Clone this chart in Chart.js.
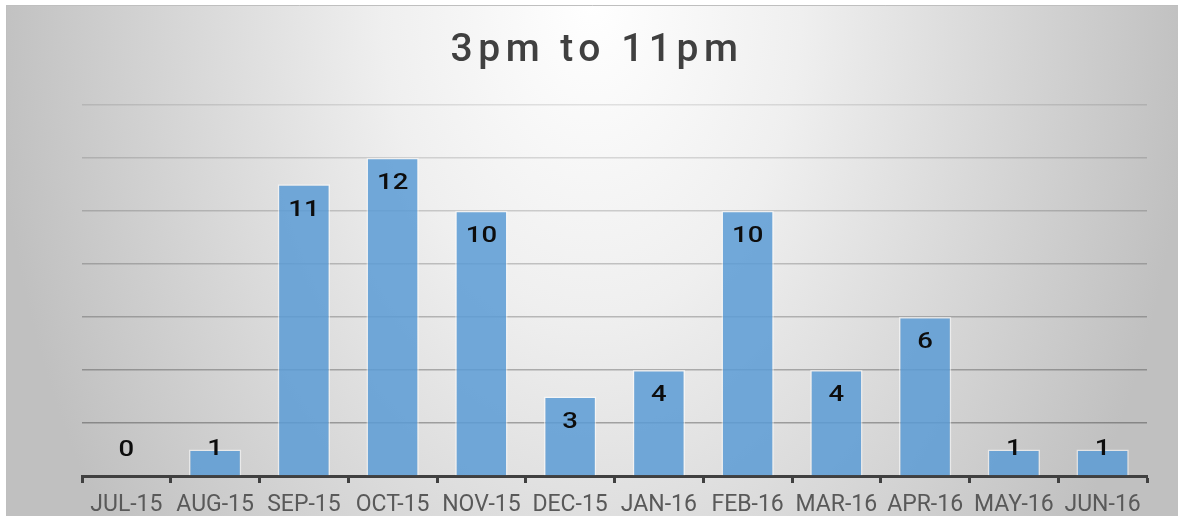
<!DOCTYPE html>
<html>
<head>
<meta charset="utf-8">
<script src="https://cdn.jsdelivr.net/npm/chart.js@4.4.1/dist/chart.umd.min.js"></script>
<style>
  html, body { margin: 0; padding: 0; background: #ffffff; }
  #wrap { width: 1178px; height: 516px; position: relative; }
</style>
</head>
<body>
<div id="wrap"><canvas id="c" width="1178" height="516"></canvas></div>
<script>
// ---- data ----
const categories = ['JUL-15', 'AUG-15', 'SEP-15', 'OCT-15', 'NOV-15', 'DEC-15',
                    'JAN-16', 'FEB-16', 'MAR-16', 'APR-16', 'MAY-16', 'JUN-16'];
const counts = [0, 1, 11, 12, 10, 3, 4, 10, 4, 6, 1, 1];
const chartTitle = '3pm to 11pm';
const yMin = 0;
const yMax = 14;
const yStep = 2;

// ---- plugins ----
const backgroundPlugin = {
  id: 'bgPanel',
  beforeDraw(chart) {
    const ctx = chart.ctx;
    const W = chart.width, H = chart.height;
    ctx.save();
    ctx.fillStyle = '#ffffff';
    ctx.fillRect(0, 0, W, H);
    const x0 = 6, y0 = 5, x1 = W, y1 = H;
    const cx = 592, cy = 0, rx = 600, ry = 900;
    ctx.beginPath();
    ctx.rect(x0, y0, x1 - x0, y1 - y0);
    ctx.clip();
    ctx.translate(cx, cy);
    ctx.scale(rx / ry, 1);
    const g = ctx.createRadialGradient(0, 0, 0, 0, 0, ry);
    g.addColorStop(0, '#ffffff');
    g.addColorStop(0.35, '#efefef');
    g.addColorStop(1, '#c0c0c0');
    ctx.fillStyle = g;
    ctx.fillRect(-2000, -100, 4000, 2000);
    ctx.restore();
    ctx.save();
    ctx.strokeStyle = '#bfbfbf';
    ctx.lineWidth = 1;
    ctx.beginPath();
    ctx.moveTo(x0 + 0.5, y1);
    ctx.lineTo(x0 + 0.5, y0 + 0.5);
    ctx.lineTo(x1, y0 + 0.5);
    ctx.stroke();
    ctx.restore();
    // spacing used by the title (drawn before the datasets)
    ctx.letterSpacing = '5.5px';
  }
};

const valueLabelPlugin = {
  id: 'valueLabels',
  afterDatasetsDraw(chart) {
    const ctx = chart.ctx;
    ctx.letterSpacing = '0px';
    const meta = chart.getDatasetMeta(0);
    ctx.save();
    ctx.font = '500 22px Roboto';
    ctx.fillStyle = '#0d0d0d';
    ctx.textAlign = 'center';
    ctx.textBaseline = 'middle';
    meta.data.forEach((el, i) => {
      const p = el.getProps(['x', 'y', 'base'], true);
      const yy = Math.min(p.y + 26, p.base - 25.5);
      ctx.save();
      ctx.translate(p.x, yy);
      ctx.scale(1.25, 1);
      ctx.fillText(String(counts[i]), 0, 0);
      ctx.restore();
    });
    ctx.restore();
  }
};

new Chart(document.getElementById('c'), {
  type: 'bar',
  data: {
    labels: categories,
    datasets: [{
      data: counts,
      backgroundColor: 'rgba(91,155,213,0.85)',
      borderColor: 'rgba(255,255,255,0.55)',
      borderWidth: 1.5,
      barPercentage: 0.59,
      categoryPercentage: 1.0
    }]
  },
  options: {
    responsive: false,
    animation: false,
    events: [],
    layout: { padding: { top: 28, left: 20, right: 4, bottom: 0 } },
    plugins: {
      legend: { display: false },
      tooltip: { enabled: false },
      title: {
        display: true,
        text: chartTitle,
        color: '#404040',
        font: { family: 'Roboto', size: 39, weight: '500', lineHeight: 1.2 },
        padding: { top: 0, bottom: 30 }
      }
    },
    scales: {
      x: {
        offset: true,
        grid: {
          offset: true,
          drawOnChartArea: false,
          drawTicks: true,
          tickLength: 7,
          tickWidth: 3,
          tickColor: '#404040'
        },
        border: { display: true, color: '#404040', width: 3 },
        ticks: {
          z: 1,
          color: '#595959',
          padding: 8,
          maxRotation: 0,
          autoSkip: false,
          font: { family: 'Roboto', size: 23 }
        },
        afterFit(scale) { scale.height = 40; }
      },
      y: {
        min: yMin,
        max: yMax,
        ticks: { display: false, stepSize: yStep },
        border: { display: false },
        grid: {
          drawTicks: false,
          lineWidth: 1.5,
          color(ctx) {
            const v = ctx.tick ? ctx.tick.value : 0;
            const a = 0.1 + 0.2 * (yMax - v) / (yMax - yStep);
            return 'rgba(0,0,0,' + a.toFixed(3) + ')';
          }
        },
        afterFit(scale) { scale.width = 62; }
      },
      yRight: {
        position: 'right',
        min: yMin,
        max: yMax,
        ticks: { display: false },
        border: { display: false },
        grid: { display: false },
        afterFit(scale) { scale.width = 27; }
      }
    }
  },
  plugins: [backgroundPlugin, valueLabelPlugin]
});
</script>
</body>
</html>
